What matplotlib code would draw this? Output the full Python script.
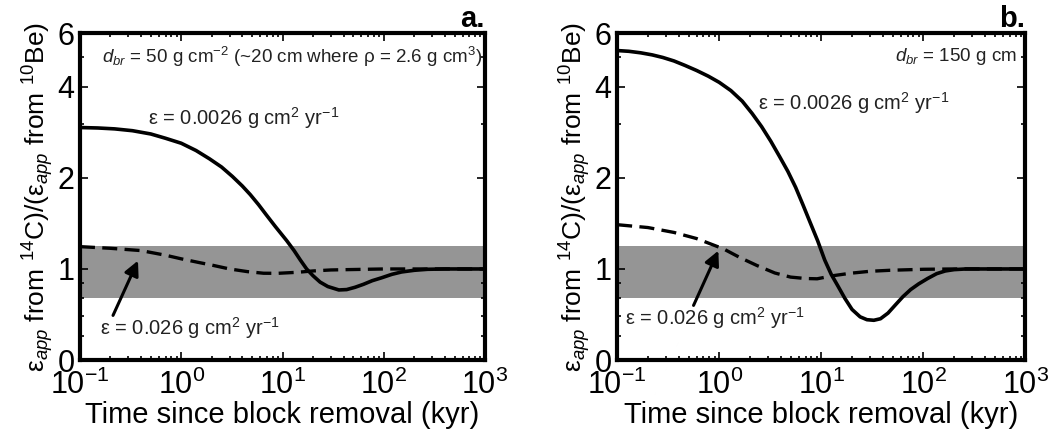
import numpy as np
import matplotlib
matplotlib.use("Agg")
import matplotlib.pyplot as plt

plt.rcParams['font.family'] = ['Liberation Sans', 'DejaVu Sans']
plt.rcParams['mathtext.fontset'] = 'custom'
plt.rcParams['mathtext.rm'] = 'Liberation Sans'
plt.rcParams['mathtext.it'] = 'Liberation Sans:italic'
plt.rcParams['mathtext.bf'] = 'Liberation Sans:bold'

# panel a, d_br = 50 g cm-2
a_slow_t = [0.1, 0.15, 0.22, 0.33, 0.5, 0.7, 1.0, 1.4, 1.9, 2.5, 3.2, 4.0, 4.8, 5.8, 6.9, 8.5, 11, 13, 15, 17.3, 20, 23.5, 28, 36, 43, 52, 63, 77, 95, 120, 150, 200, 270, 400, 1000]
a_slow_v = [2.93, 2.92, 2.90, 2.86, 2.79, 2.70, 2.60, 2.46, 2.31, 2.17, 2.02, 1.88, 1.76, 1.63, 1.51, 1.38, 1.24, 1.15, 1.07, 1.0, 0.90, 0.81, 0.75, 0.705, 0.71, 0.74, 0.78, 0.83, 0.87, 0.92, 0.955, 0.98, 0.995, 1.0, 1.0]
a_fast_t = [0.1, 0.2, 0.4, 0.7, 1.0, 1.5, 2.0, 3.0, 4.5, 6.5, 9, 14, 20, 30, 44, 100, 1000]
a_fast_v = [1.185, 1.17, 1.15, 1.11, 1.08, 1.05, 1.03, 1.0, 0.96, 0.936, 0.935, 0.95, 0.97, 0.985, 0.99, 1.0, 1.0]

# panel b, d_br = 150 g cm-2
b_slow_t = [0.1, 0.13, 0.17, 0.22, 0.28, 0.36, 0.46, 0.6, 0.78, 1.0, 1.3, 1.68, 2.1, 2.6, 3.2, 3.9, 4.7, 5.6, 6.6, 7.8, 9.2, 10.8, 12.5, 14.5, 17, 20, 24, 28, 32.7, 38, 45, 53, 63, 75, 90, 110, 135, 164, 200, 260, 1000]
b_slow_v = [5.26, 5.23, 5.17, 5.09, 4.99, 4.86, 4.70, 4.52, 4.33, 4.13, 3.88, 3.58, 3.26, 2.95, 2.64, 2.35, 2.10, 1.86, 1.63, 1.42, 1.24, 1.07, 0.92, 0.76, 0.60, 0.47, 0.39, 0.36, 0.354, 0.37, 0.43, 0.52, 0.62, 0.71, 0.786, 0.86, 0.93, 0.97, 0.99, 1.0, 1.0]
b_fast_t = [0.1, 0.2, 0.36, 0.6, 1.1, 1.6, 2.35, 3.5, 5.0, 7, 9.1, 13, 19.3, 30, 47, 100, 200, 1000]
b_fast_v = [1.40, 1.37, 1.32, 1.26, 1.165, 1.09, 1.026, 0.94, 0.88, 0.86, 0.856, 0.90, 0.936, 0.965, 0.98, 0.995, 1.0, 1.0]

band = [0.6, 1.19]
yticks = [0, 1, 2, 4, 6]
yminor = [0.2, 0.4, 0.6, 0.8, 3, 5]


def fwd(v):
    v = np.asarray(v, dtype=float)
    return np.where(v <= 1, np.log2(1 + np.maximum(v, -0.99)), 1 + np.log2(np.maximum(v, 1e-9)))


def inv(p):
    p = np.asarray(p, dtype=float)
    return np.where(p <= 1, 2 ** p - 1, 2 ** (p - 1))


fig = plt.figure(figsize=(10.55, 4.43), dpi=100)
ax1 = fig.add_axes([0.0758, 0.187, 0.384, 0.738])
ax2 = fig.add_axes([0.585, 0.187, 0.387, 0.738])

ylab = r'ε$_{app}$ from $^{14}$C)/(ε$_{app}$ from $^{10}$Be)'
slow_txt = r'ε = 0.0026 g cm$^{2}$ yr$^{-1}$'
fast_txt = r'ε = 0.026 g cm$^{2}$ yr$^{-1}$'

panels = [
    (ax1, a_slow_t, a_slow_v, a_fast_t, a_fast_v, 'a.',
     r'$d_{br}$ = 50 g cm$^{-2}$ (~20 cm where ρ = 2.6 g cm$^{3}$)', 0.993,
     (0.168, 0.74), (0.049, 0.098), (0.374, 1.065), (0.212, 0.405)),
    (ax2, b_slow_t, b_slow_v, b_fast_t, b_fast_v, 'b.',
     r'$d_{br}$ = 150 g cm', 0.98,
     (0.346, 0.786), (0.02, 0.128), (0.98, 1.149), (0.56, 0.516)),
]

for ax, st, sv, ft, fv, lab, dtxt, dx, spos, fpos, head, tail in panels:
    ax.set_xscale('log')
    ax.set_yscale('function', functions=(fwd, inv))
    ax.axhspan(band[0], band[1], color='#959595', lw=0, zorder=1)
    ax.plot(ft, fv, color='k', lw=2.4, ls=(0, (4.5, 2.2)), zorder=3)
    ax.plot(st, sv, color='k', lw=2.6, zorder=4)
    ax.set_xlim(0.1, 1000)
    ax.set_ylim(0, 6)
    ax.set_yticks(yticks)
    ax.set_yticks(yminor, minor=True)
    ax.set_yticklabels([str(t) for t in yticks])
    ax.tick_params(which='both', direction='in', top=True, right=True, width=1.2, labelsize=22)
    ax.tick_params(which='major', length=6)
    ax.tick_params(which='minor', length=3)
    ax.tick_params(axis='x', pad=7)
    ax.tick_params(axis='y', pad=4)
    for s in ax.spines.values():
        s.set_linewidth(3)
    ax.set_xlabel('Time since block removal (kyr)', fontsize=21, labelpad=0)
    ax.set_ylabel(ylab, fontsize=19, labelpad=1)
    ax.text(1.0, 1.0, lab, transform=ax.transAxes, ha='right', va='bottom', fontsize=21, fontweight='bold')
    ax.text(dx, 0.928, dtxt, transform=ax.transAxes, ha='right', va='center', fontsize=13.5, color='#222222')
    ax.text(spos[0], spos[1], slow_txt, transform=ax.transAxes, ha='left', va='center', fontsize=14.5, color='#222222')
    ax.text(fpos[0], fpos[1], fast_txt, transform=ax.transAxes, ha='left', va='center', fontsize=14.5, color='#222222')
    ax.annotate('', xy=head, xytext=tail,
                arrowprops=dict(arrowstyle='-|>', lw=2.2, color='k', mutation_scale=22, shrinkA=0, shrinkB=0),
                zorder=5)

fig.savefig('out.png', dpi=100)
